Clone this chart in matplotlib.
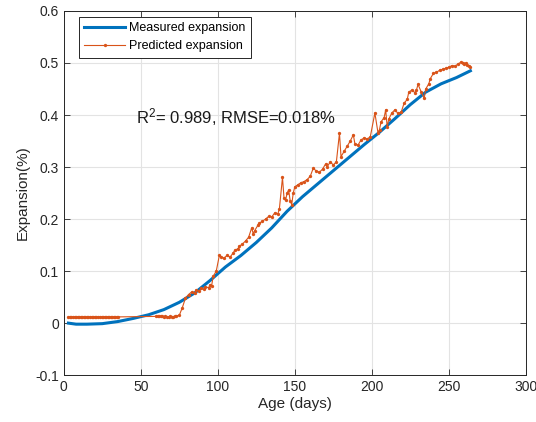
import matplotlib.pyplot as plt

plt.rcParams['font.family'] = ['Liberation Sans', 'DejaVu Sans']
plt.rcParams['mathtext.fontset'] = 'custom'
plt.rcParams['mathtext.rm'] = 'Liberation Sans'
plt.rcParams['mathtext.it'] = 'Liberation Sans'

# measured expansion (smooth curve)
meas_days = [3, 8, 15, 25, 35, 45, 55, 65, 75, 85, 95, 105, 115, 125, 135, 145,
             155, 165, 175, 185, 195, 205, 215, 225, 235, 245, 255, 264]
meas_vals = [0.000, -0.002, -0.002, -0.001, 0.003, 0.009, 0.016, 0.026, 0.040,
             0.058, 0.082, 0.108, 0.130, 0.155, 0.183, 0.215, 0.243, 0.268,
             0.293, 0.318, 0.343, 0.367, 0.393, 0.420, 0.444, 0.460, 0.472, 0.485]

# predicted expansion
pred_days = [3, 4, 5, 6, 7, 8, 9, 10, 11, 12, 13, 14, 15, 16, 17, 18, 19, 20, 21, 22,
             23.5, 24.5, 25.5, 26.5, 27.5, 28.5, 29.5, 30.5, 31.5, 32.5, 33.5, 34.5, 35.5,
             60, 61, 62, 63, 64, 65, 66, 67, 68, 69, 70, 71, 72, 73,
             75, 77, 79, 81, 83, 85, 86, 88, 89, 91, 92, 94, 95, 96, 97, 99,
             101, 102, 104, 106, 108, 110, 111, 113, 114, 116, 118, 120, 122, 123, 124,
             126, 127, 129, 131, 133, 135, 137, 139, 140, 142, 143, 144, 145, 146, 147,
             148, 149, 150, 152, 154, 156, 158, 160, 162, 164, 166, 168, 170, 171, 173,
             175, 177, 179, 180, 182, 184, 186, 188, 189, 191, 193, 195, 197, 199, 202,
             204, 205, 206, 208, 209, 210, 211, 213, 215, 217, 219, 221, 223, 224, 226,
             228, 229, 230, 232, 234, 235, 237, 238, 240, 242, 244, 246, 248, 250, 252,
             254, 256, 258, 259, 260, 261, 262, 263, 264]
pred_vals = [0.012] * 33 + \
            [0.013, 0.013, 0.014, 0.013, 0.013, 0.012, 0.013, 0.012, 0.012, 0.013, 0.012, 0.012, 0.013, 0.014] + \
            [0.015, 0.030, 0.048, 0.055, 0.060, 0.058, 0.064, 0.062, 0.067, 0.065, 0.070, 0.068, 0.074, 0.072, 0.090, 0.100,
             0.130, 0.127, 0.125, 0.130, 0.127, 0.135, 0.140, 0.143, 0.148, 0.152, 0.158, 0.165, 0.183, 0.172, 0.178,
             0.188, 0.192, 0.196, 0.200, 0.205, 0.204, 0.212, 0.210, 0.220, 0.280, 0.240, 0.236, 0.250, 0.256, 0.235,
             0.228, 0.250, 0.262, 0.266, 0.270, 0.272, 0.276, 0.282, 0.298, 0.292, 0.290, 0.296, 0.306, 0.300, 0.310,
             0.304, 0.310, 0.365, 0.320, 0.330, 0.340, 0.350, 0.362, 0.345, 0.342, 0.352, 0.356, 0.354, 0.358, 0.404,
             0.366, 0.372, 0.387, 0.395, 0.410, 0.377, 0.392, 0.404, 0.410, 0.403, 0.405, 0.423, 0.430, 0.444, 0.448,
             0.443, 0.448, 0.459, 0.445, 0.432, 0.450, 0.460, 0.470, 0.480, 0.482, 0.486, 0.488, 0.490, 0.492, 0.495,
             0.494, 0.498, 0.502, 0.500, 0.499, 0.500, 0.496, 0.494, 0.493]

fig = plt.figure(figsize=(5.36, 4.22), dpi=100)
ax = fig.add_axes([0.119, 0.111, 0.862, 0.863])

ax.plot(meas_days, meas_vals, color='#0072BD', lw=2.2, label='Measured expansion', zorder=3)
ax.plot(pred_days, pred_vals, color='#D95319', lw=0.8, marker='o', ms=2.4,
        mec='none', label='Predicted expansion', zorder=4)

ax.text(47, 0.384, 'R$^2$= 0.989, RMSE=0.018%', fontsize=12, color='#1a1a1a')

ax.set_xlim(0, 300)
ax.set_ylim(-0.1, 0.6)
ax.set_xticks([0, 50, 100, 150, 200, 250, 300])
ax.set_yticks([-0.1, 0, 0.1, 0.2, 0.3, 0.4, 0.5, 0.6])
ax.set_yticklabels(['-0.1', '0', '0.1', '0.2', '0.3', '0.4', '0.5', '0.6'])
ax.grid(True, color='#e3e3e3', lw=0.8)
ax.set_axisbelow(True)
ax.tick_params(direction='in', top=True, right=True, length=4, labelsize=10,
               colors='#262626', width=0.6)
for s in ax.spines.values():
    s.set_color('#262626')
    s.set_linewidth(0.7)

ax.set_xlabel('Age (days)', fontsize=11, color='#262626', labelpad=2)
ax.set_ylabel('Expansion(%)', fontsize=11, color='#262626', labelpad=4)

leg = ax.legend(loc='upper left', fontsize=9, fancybox=False, framealpha=1,
                edgecolor='#262626', borderpad=0.45, handlelength=3.3,
                handletextpad=0.3, labelspacing=0.45, borderaxespad=0,
                bbox_to_anchor=(0.032, 0.984))
leg.get_frame().set_linewidth(0.7)

fig.savefig('out.png', dpi=100)
